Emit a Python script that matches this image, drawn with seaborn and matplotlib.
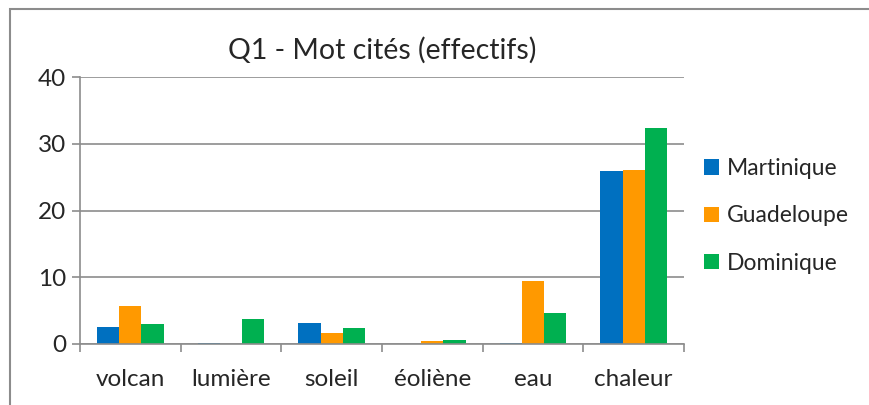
import pandas as pd
import seaborn as sns
import matplotlib.pyplot as plt
from matplotlib.patches import Rectangle

# data
categories = ['volcan', 'lumière', 'soleil', 'éoliène', 'eau', 'chaleur']
martinique = [2.6, 0.2, 3.2, 0.0, 0.2, 25.9]
guadeloupe = [5.7, 0.0, 1.6, 0.4, 9.4, 26.1]
dominique = [3.0, 3.8, 2.4, 0.6, 4.6, 32.3]
series = ['Martinique', 'Guadeloupe', 'Dominique']
colors = ['#0070C0', '#FF9900', '#00B050']

df = pd.DataFrame({
    'mot': categories * 3,
    'region': [s for s in series for _ in categories],
    'effectif': martinique + guadeloupe + dominique,
})

sns.set_theme(style='white')
plt.rcParams['font.family'] = ['Lato', 'DejaVu Sans']

fig = plt.figure(figsize=(8.69, 4.05), dpi=100)
ax = fig.add_axes([80 / 869, 61 / 405, 604 / 869, 267 / 405])

sns.barplot(data=df, x='mot', y='effectif', hue='region', palette=colors,
            width=0.66, ax=ax, saturation=1, linewidth=0)

ax.set_ylim(0, 40)
ax.set_xlim(-0.5, len(categories) - 0.5)
ax.set_yticks([0, 10, 20, 30, 40])
ax.yaxis.grid(True, color='#8c8c8c', linewidth=1.2)
ax.set_axisbelow(True)
ax.set_xlabel('')
ax.set_ylabel('')

# category separator ticks on x axis
ax.set_xticks([i - 0.5 for i in range(len(categories) + 1)], minor=True)
ax.tick_params(axis='x', which='minor', length=6, width=1.2, color='#8c8c8c', bottom=True)
ax.tick_params(axis='x', which='major', length=0, labelsize=17.5, pad=18)
ax.tick_params(axis='y', length=6, width=1.2, color='#8c8c8c', left=True, labelsize=17.5, pad=4)

for side in ['top', 'right']:
    ax.spines[side].set_visible(False)
for side in ['left', 'bottom']:
    ax.spines[side].set_color('#8c8c8c')
    ax.spines[side].set_linewidth(1.2)

ax.set_title('Q1 - Mot cités (effectifs)', fontsize=20.5, pad=13)

ax.legend(loc='center left', bbox_to_anchor=(1.033, 0.48), frameon=False,
          fontsize=16.5, handlelength=0.65, handleheight=0.65, handletextpad=0.35,
          labelspacing=1.15, borderaxespad=0, borderpad=0)

# outer chart frame (cropped on right and bottom)
fig.patches.append(Rectangle((10 / 869, -0.1), 2, 1.1 - 9 / 405,
                             transform=fig.transFigure, fill=False,
                             edgecolor='#8c8c8c', linewidth=1.5))

fig.savefig('out.png', dpi=100)
